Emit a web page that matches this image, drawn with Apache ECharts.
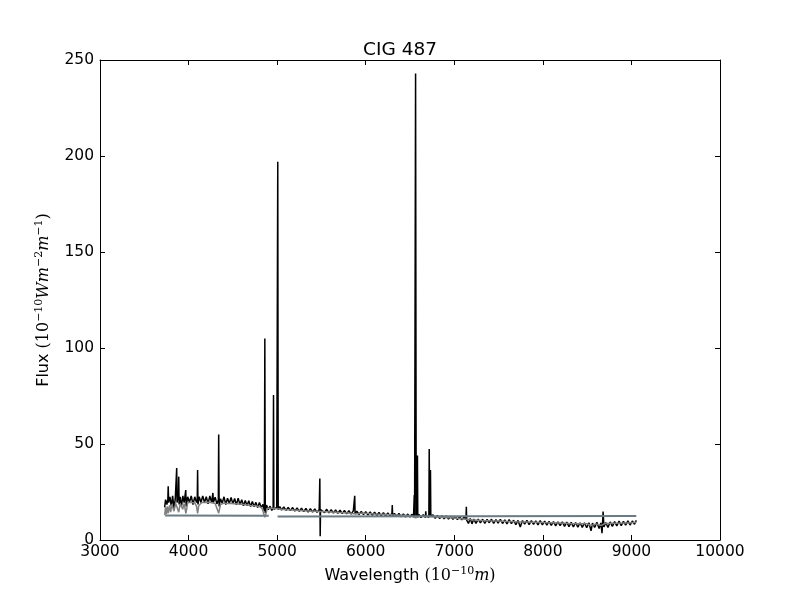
<!DOCTYPE html>
<html>
<head>
<meta charset="utf-8">
<script src="https://cdn.jsdelivr.net/npm/echarts@6/dist/echarts.min.js"></script>
<style>
html,body{margin:0;padding:0;background:#fff;}
#chart{width:800px;height:600px;}
</style>
</head>
<body>
<div id="chart"></div>
<script>
// Observed spectrum: [wavelength (Angstrom), flux]
const observed = [
[3730,17],[3740,21],[3755,18.5],[3766,21],[3770,28],[3775,19.5],[3790,22.5],[3805,17.5],[3820,23],[3835,16.5],
[3850,21.5],[3862,22],[3866,37.5],[3870,19.5],[3885,24],[3889,33],[3893,18.5],[3905,22.5],[3920,17.5],[3935,23],
[3950,19.5],[3963,18.5],[3968,26],[3973,17.5],[3990,22.5],[4010,19.5],[4030,23],[4050,18.5],[4070,22.5],[4090,19.5],
[4098,21],[4102,36.5],[4106,18.5],[4120,22.5],[4140,19.5],[4160,23],[4180,19.5],[4200,22.5],[4220,18.8],[4240,23],
[4260,19.5],[4275,24.5],[4280,19.5],[4300,22.3],[4320,18.8],[4336,21],[4340,55],[4345,17.5],[4360,21.5],[4380,19.2],
[4400,22.5],[4420,18.5],[4440,21.8],[4460,19],[4480,22.2],[4500,18.8],[4520,21.6],[4540,18.3],[4560,21.8],[4580,18.4],
[4600,21],[4620,17.8],[4640,20.6],[4660,17.9],[4680,20.5],[4700,17.4],[4720,20.1],[4740,17.3],[4760,19.6],[4780,16.9],
[4800,19.5],[4820,16.8],[4840,18.6],[4856,15],[4861,105],[4866,14],[4880,18.2],[4900,15.8],[4920,17.6],[4940,15.4],
[4955,17.2],[4959,75.5],[4963,16],[4980,15.5],[4995,17],[5007,197],[5012,15.8],[5030,17.4],[5050,15.6],[5075,17.2],
[5100,15.4],[5125,17],[5150,15.3],[5175,16.9],[5200,15],[5225,16.7],[5250,14.9],[5275,16.6],[5300,14.8],[5325,16.4],
[5350,14.5],[5375,16.3],[5400,14.6],[5425,16.2],[5450,14.4],[5475,15.9],[5482,32],[5486,2],[5490,15.9],[5510,16.1],
[5535,14.3],[5560,16],[5585,14.1],[5610,15.8],[5635,14],[5660,15.7],[5685,13.9],[5710,15.5],[5735,13.7],[5760,15.4],
[5785,13.6],[5810,15.3],[5835,13.5],[5860,15.2],[5872,14.5],[5876,23],[5880,13.6],[5900,15],[5925,13.3],[5950,14.9],
[5975,13.2],[6000,14.8],[6025,13],[6050,14.6],[6075,12.9],[6100,14.5],[6125,12.8],[6150,14.3],[6175,12.6],[6200,14.2],
[6225,12.5],[6250,14.1],[6275,12.4],[6296,13.9],[6300,18.2],[6304,12.4],[6325,13.9],[6350,12.2],[6375,13.8],[6400,12.1],
[6425,13.6],[6450,12],[6475,13.5],[6500,11.9],[6520,13.4],[6540,12],[6544,12.6],[6548,23.4],[6552,12],[6556,11],
[6563,243],[6570,12],[6580,12.8],[6584,44],[6588,12],[6600,13.3],[6625,11.7],[6650,13.2],[6674,11.7],[6678,15],
[6682,12.5],[6700,13],[6713,11.8],[6717,47.4],[6722,12.6],[6727,11.7],[6731,36.5],[6735,12.5],[6760,13],[6785,11.3],
[6810,12.8],[6835,11.2],[6860,12.7],[6885,11],[6910,12.6],[6935,10.9],[6960,12.4],[6985,10.8],[7010,12.3],[7035,10.6],
[7060,12.1],[7085,10.5],[7110,11.9],[7132,10.8],[7136,17.3],[7140,10.3],[7160,8.6],[7180,11.2],[7200,8.4],[7220,10.9],
[7245,8.7],[7270,10.9],[7295,8.9],[7320,10.8],[7345,8.6],[7370,10.7],[7395,9],[7420,10.8],[7445,8.7],[7470,10.6],
[7495,8.8],[7520,10.7],[7545,8.6],[7570,10.5],[7595,8.4],[7620,10.6],[7645,8.5],[7670,10.3],[7695,8],[7720,10.2],
[7745,6.8],[7770,10.1],[7795,8.3],[7820,10.2],[7845,8],[7870,10.1],[7895,8.1],[7920,10],[7945,7.8],[7970,10.1],
[7995,7.9],[8020,9.8],[8045,7.7],[8070,9.7],[8095,7.6],[8120,9.6],[8145,7.4],[8170,9.5],[8195,7.5],[8220,9.4],
[8245,7.1],[8270,9.3],[8295,7],[8320,9.2],[8345,6.8],[8370,9.1],[8395,6.7],[8420,9],[8445,6.6],[8470,8.9],
[8495,6.4],[8520,9],[8544,4.8],[8560,8.8],[8585,6.5],[8610,9.2],[8635,6],[8655,8.9],[8668,3.5],[8675,9.4],
[8680,14.8],[8690,6.8],[8710,9.1],[8735,6.5],[8760,9.4],[8785,7.1],[8810,9.6],[8835,7.3],[8860,9.8],[8885,7.5],
[8910,9.7],[8935,7.7],[8960,10],[8985,7.8],[9010,9.9],[9035,8.2],[9055,10.2]
];

// Model (synthetic stellar population fit): [wavelength, flux]
const model = [
[3730,13],[3740,17],[3750,13.5],[3760,17.5],[3771,14],[3785,18],[3798,14.5],[3812,18.5],[3835,15],[3855,19],
[3870,18.5],[3889,14.5],[3905,19],[3925,18.5],[3934,16],[3950,19],[3970,13.8],[3990,19.5],[4030,19.5],[4070,19.3],
[4090,17.5],[4102,13.8],[4115,18],[4150,19.5],[4200,19.7],[4250,19.5],[4300,19],[4320,18],[4340,14],[4360,18.5],
[4400,19.2],[4450,19],[4500,19],[4550,18.8],[4600,18.6],[4650,18.3],[4700,18],[4750,17.8],[4800,17.5],[4830,16.5],
[4861,11.8],[4890,16.5],[4930,16.5],[5000,16.3],[5050,16],[5100,15.8],[5200,15.5],[5300,15.2],[5400,15],[5500,14.8],
[5600,14.6],[5700,14.3],[5800,14.1],[5890,13.6],[5950,14],[6000,13.9],[6100,13.6],[6200,13.4],[6300,13.1],[6400,12.9],
[6500,12.7],[6563,11.5],[6620,12.5],[6700,12.3],[6800,12],[6900,11.7],[7000,11.4],[7100,11],[7200,10.5],[7300,10.2],
[7400,10],[7500,9.9],[7600,9.7],[7700,9.5],[7800,9.4],[7900,9.3],[8000,9.1],[8100,9],[8200,8.8],[8300,8.6],
[8400,8.5],[8500,8.5],[8542,7.5],[8600,8.4],[8662,7.6],[8700,8.6],[8800,8.7],[8900,8.8],[9000,9],[9055,9.2]
];

// Continuum level line (gap around [OIII])
const continuum = [
[3735,12.7],[4905,12.6],[4950,'-'],[5005,12.3],[9055,12.5]
];

const xTicks = {min:3000, max:10000, interval:1000};
const yTicks = {min:0, max:250, interval:50};

const chart = echarts.init(document.getElementById('chart'), null, {renderer:'canvas'});

const axisCommon = {
  axisLine:{show:true, onZero:false, lineStyle:{color:'#000', width:1}},
  axisTick:{show:true, inside:true, length:5, lineStyle:{color:'#000', width:1}},
  splitLine:{show:false}
};
const labelStyle = {color:'#000', fontSize:15.5, fontFamily:'DejaVu Sans', formatter:function(v){return String(v);}};
const richMath = {
  t:{fontSize:16, fontFamily:'DejaVu Sans', color:'#000'},
  m:{fontSize:16, fontFamily:'DejaVu Serif', color:'#000'},
  i:{fontSize:16, fontFamily:'DejaVu Serif', fontStyle:'italic', color:'#000'},
  s:{fontSize:11, fontFamily:'DejaVu Serif', color:'#000', padding:[0,0,9,0]}
};

chart.setOption({
  animation:false,
  backgroundColor:'#fff',
  title:{
    text:'CIG 487', left:'center', top:36,
    textStyle:{fontSize:18.5, fontWeight:'normal', color:'#000', fontFamily:'DejaVu Sans'}
  },
  grid:{left:100, right:80, top:60, bottom:60, containLabel:false},
  xAxis:[
    Object.assign({}, axisCommon, {
      type:'value', position:'bottom', min:xTicks.min, max:xTicks.max, interval:xTicks.interval,
      axisLabel:Object.assign({margin:4}, labelStyle),
      name:'{t|Wavelength }{m|(10}{s|−10}{i|m}{m|)}',
      nameLocation:'middle', nameGap:26,
      nameTextStyle:{rich:richMath}
    }),
    Object.assign({}, axisCommon, {
      type:'value', position:'top', min:xTicks.min, max:xTicks.max, interval:xTicks.interval,
      axisLabel:{show:false}
    })
  ],
  yAxis:[
    Object.assign({}, axisCommon, {
      type:'value', position:'left', min:yTicks.min, max:yTicks.max, interval:yTicks.interval,
      axisLabel:Object.assign({margin:6}, labelStyle),
      name:'{t|Flux }{m|(10}{s|−10}{i|Wm}{s|−2}{i|m}{s|−1}{m|)}',
      nameLocation:'middle', nameGap:46, nameRotate:90,
      nameTextStyle:{rich:richMath}
    }),
    Object.assign({}, axisCommon, {
      type:'value', position:'right', min:yTicks.min, max:yTicks.max, interval:yTicks.interval,
      axisLabel:{show:false}
    })
  ],
  series:[
    {type:'line', name:'observed', data:observed, showSymbol:false, symbol:'none',
     lineStyle:{color:'#000', width:1.5}, z:2},
    {type:'line', name:'model', data:model, showSymbol:false, symbol:'none',
     lineStyle:{color:'#808080', width:1.5}, z:3},
    {type:'line', name:'continuum', data:continuum, showSymbol:false, symbol:'none', connectNulls:false,
     lineStyle:{color:'#6c7a84', width:2}, z:4}
  ]
});
</script>
</body>
</html>
